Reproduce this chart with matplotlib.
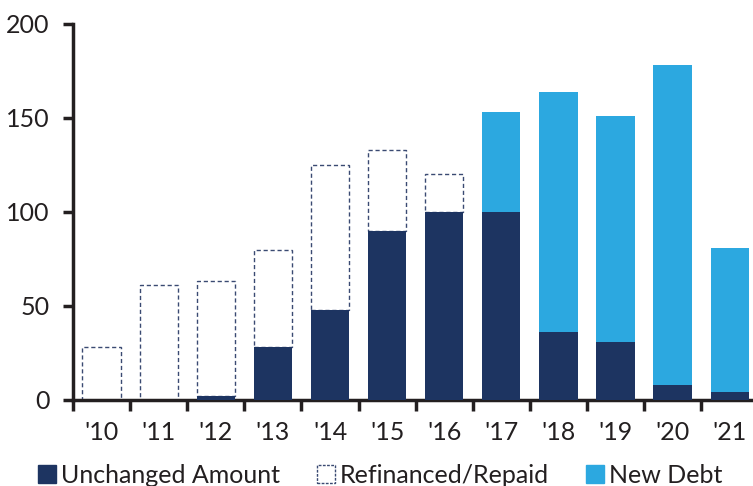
import matplotlib
matplotlib.use("Agg")
import matplotlib.pyplot as plt
import numpy as np
from matplotlib.patches import Patch

plt.rcParams['font.family'] = ['Lato', 'DejaVu Sans']

# data
years = ["'10", "'11", "'12", "'13", "'14", "'15", "'16", "'17", "'18", "'19", "'20", "'21"]
unchanged = [0, 0, 2, 28, 48, 90, 100, 100, 36, 31, 8, 4]
refinanced = [28, 61, 61, 52, 77, 43, 20, 0, 0, 0, 0, 0]
new_debt = [0, 0, 0, 0, 0, 0, 0, 53, 128, 120, 170, 77]

navy = '#1d3461'
light = '#2ca8e0'
text_col = '#231f20'

fig = plt.figure(figsize=(7.53, 4.86), dpi=100)
ax = fig.add_axes([0.097, 0.177, 0.91, 0.774])

x = np.arange(len(years))
w = 0.67
unchanged = np.array(unchanged)
refinanced = np.array(refinanced)
new_debt = np.array(new_debt)

m = refinanced > 0
ax.bar(x[m], refinanced[m], w, bottom=unchanged[m], facecolor='white',
       edgecolor='#3a4a72', linestyle=(0, (3, 2)), linewidth=1.0, zorder=2)
m = unchanged > 0
ax.bar(x[m], unchanged[m], w, color=navy, zorder=3)
m = new_debt > 0
ax.bar(x[m], new_debt[m], w, bottom=unchanged[m], color=light, zorder=3)

ax.set_xlim(-0.5, 11.5)
ax.set_ylim(0, 200)
ax.set_yticks([0, 50, 100, 150, 200])
ax.set_xticks(np.arange(-0.5, 12, 1))
ax.set_xticklabels([])
ax.set_xticks(x, minor=True)
ax.set_xticklabels(years, minor=True)
ax.tick_params(axis='x', which='minor', length=0, pad=15, labelsize=18, labelcolor=text_col)
ax.tick_params(axis='x', which='major', length=8, width=2.5, color=text_col)
ax.tick_params(axis='y', length=7, width=2.5, color=text_col, labelsize=18,
               labelcolor=text_col, pad=10)

for s in ['top', 'right']:
    ax.spines[s].set_visible(False)
for s in ['left', 'bottom']:
    ax.spines[s].set_linewidth(2.5)
    ax.spines[s].set_color(text_col)

handles = [
    Patch(facecolor=navy, edgecolor=navy, label='Unchanged Amount'),
    Patch(facecolor='white', edgecolor='#3a4a72', linestyle=(0, (2, 1)), linewidth=1.0,
          label='Refinanced/Repaid'),
    Patch(facecolor=light, edgecolor=light, label='New Debt'),
]
fig.legend(handles=handles, loc='center', bbox_to_anchor=(0.505, 0.022), ncol=3,
           frameon=False, fontsize=18, handlelength=0.7, handleheight=0.7,
           handletextpad=0.2, columnspacing=1.5, labelcolor=text_col)

fig.savefig('out.png', dpi=100)
